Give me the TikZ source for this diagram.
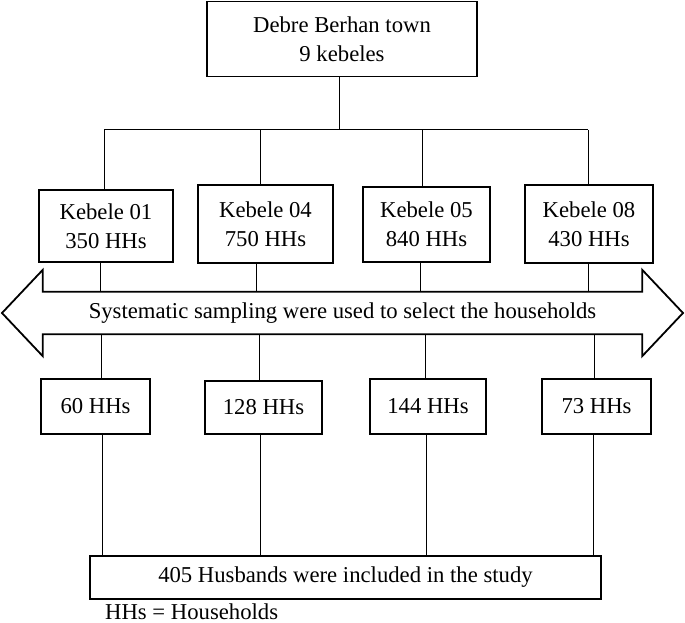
\documentclass[tikz,border=0pt]{standalone}
\usepackage{fontspec}
\setmainfont{Liberation Serif}
\usetikzlibrary{calc}
\begin{document}
\begin{tikzpicture}[x=1pt,y=-1pt,
  box/.style={draw,line width=1.8pt,inner sep=0pt,align=center,font=\fontsize{22.7}{29}\selectfont},
  conn/.style={line width=1pt},
  txt/.style={inner sep=0pt,font=\fontsize{22.7}{29}\selectfont}]
\useasboundingbox (0,0) rectangle (685,623);
% top
\node[box,minimum width=270,minimum height=75] (top) at (342,39) {Debre Berhan town\\9 kebeles};
% kebeles
\node[box,minimum width=134,minimum height=72] (k1) at (106,226) {Kebele 01\\350 HHs};
\node[box,minimum width=135,minimum height=78] (k4) at (265.5,224) {Kebele 04\\750 HHs};
\node[box,minimum width=127,minimum height=75] (k5) at (426.5,224.5) {Kebele 05\\840 HHs};
\node[box,minimum width=128,minimum height=78] (k8) at (589,224) {Kebele 08\\430 HHs};
% bus
\coordinate (hub) at (339,130);
\coordinate (b1) at (104,130);
\coordinate (b4) at (260,130);
\coordinate (b5) at (422,130);
\coordinate (b8) at (588,130);
\draw[conn] (top.south -| hub) -- (hub);
\draw[conn] (b1) -- (b8);
\draw[conn] (b1) -- (b1 |- k1.north);
\draw[conn] (b4) -- (b4 |- k4.north);
\draw[conn] (b5) -- (b5 |- k5.north);
\draw[conn] (b8) -- (b8 |- k8.north);
% arrow
\node[txt,minimum width=599,minimum height=42] (arr) at (342.5,313) {Systematic sampling were used to select the households};
\coordinate (ltip) at (2,313);
\coordinate (rtip) at (683,313);
\draw[line width=1.8pt,line join=miter] (arr.north west) -- (arr.north east) -- ++(0,-22) -- (rtip) -- ($(arr.south east)+(0,22)$) -- (arr.south east)
  -- (arr.south west) -- ++(0,22) -- (ltip) -- ($(arr.north west)+(0,-22)$) -- cycle;
% samples
\node[box,minimum width=109,minimum height=55] (s1) at (95.5,406.5) {60 HHs};
\node[box,minimum width=117,minimum height=53] (s4) at (263.5,407.5) {128 HHs};
\node[box,minimum width=116,minimum height=55] (s5) at (428,406.5) {144 HHs};
\node[box,minimum width=109,minimum height=55] (s8) at (596.5,406.5) {73 HHs};
% kebele to arrow
\coordinate (a1) at (100,0);
\coordinate (a4) at (256,0);
\coordinate (a5) at (420,0);
\coordinate (a8) at (588,0);
\draw[conn] (a1 |- k1.south) -- (a1 |- arr.north);
\draw[conn] (a4 |- k4.south) -- (a4 |- arr.north);
\draw[conn] (a5 |- k5.south) -- (a5 |- arr.north);
\draw[conn] (a8 |- k8.south) -- (a8 |- arr.north);
% arrow to samples
\coordinate (c1) at (101,0);
\coordinate (c4) at (259,0);
\coordinate (c5) at (425,0);
\coordinate (c8) at (594,0);
\draw[conn] (c1 |- arr.south) -- (c1 |- s1.north);
\draw[conn] (c4 |- arr.south) -- (c4 |- s4.north);
\draw[conn] (c5 |- arr.south) -- (c5 |- s5.north);
\draw[conn] (c8 |- arr.south) -- (c8 |- s8.north);
% bottom
\node[box,minimum width=511,minimum height=43] (bot) at (345.5,577.5) {405 Husbands were included in the study};
\coordinate (d1) at (102,0);
\coordinate (d4) at (260,0);
\coordinate (d5) at (426,0);
\coordinate (d8) at (593,0);
\draw[conn] (d1 |- s1.south) -- (d1 |- bot.north);
\draw[conn] (d4 |- s4.south) -- (d4 |- bot.north);
\draw[conn] (d5 |- s5.south) -- (d5 |- bot.north);
\draw[conn] (d8 |- s8.south) -- (d8 |- bot.north);
% footer
\node[txt,anchor=base west] (note) at (105,619) {HHs = Households};
\end{tikzpicture}
\end{document}
